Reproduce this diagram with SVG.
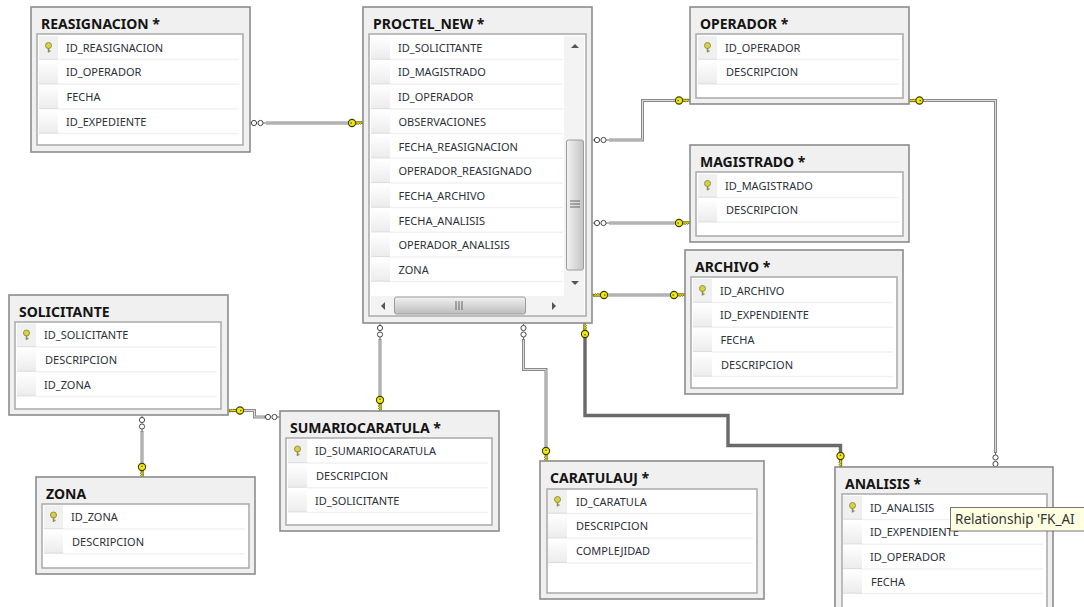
<svg xmlns="http://www.w3.org/2000/svg" xmlns:xlink="http://www.w3.org/1999/xlink" width="1084" height="607" viewBox="0 0 1084 607">
<style>
.outer{fill:#f0f0f0;stroke:#8c8c8c;stroke-width:1.6}
.inner{fill:#fff;stroke:#a9a9a9;stroke-width:1.5}
.title{font:bold 14px "Noto Sans","Liberation Sans",sans-serif;fill:#141414}
.col{font:11px "Noto Sans","Liberation Sans",sans-serif;fill:#2c3038}
.sep{stroke:#f1f1f1;stroke-width:1.5;fill:none}
.rel-o{fill:none;stroke:#8a8a8a;stroke-width:3}
.rel-i{fill:none;stroke:#dcdcdc;stroke-width:1}
.rel-sel{fill:none;stroke:#6a6a6a;stroke-width:3.4}
.sb{fill:#f3f3f3}
.thumb{fill:url(#thumbV);stroke:#9c9c9c}
.thumbh{fill:url(#thumbH);stroke:#9c9c9c}
.arrow{fill:#555}
.grip{stroke:#666;stroke-width:1;fill:none}
.tip{fill:#ffffe1;stroke:#767676}
.tiptext{font:13.5px "Noto Sans","Liberation Sans",sans-serif;fill:#333}
</style>
<defs>
<linearGradient id="cell" x1="0" y1="0" x2="0" y2="1"><stop offset="0" stop-color="#fff"/><stop offset="1" stop-color="#ececec"/></linearGradient>
<linearGradient id="thumbV" x1="0" y1="0" x2="1" y2="0"><stop offset="0" stop-color="#f2f2f2"/><stop offset="1" stop-color="#c4c4c4"/></linearGradient>
<linearGradient id="thumbH" x1="0" y1="0" x2="0" y2="1"><stop offset="0" stop-color="#f2f2f2"/><stop offset="1" stop-color="#bcbcbc"/></linearGradient>
<g id="row"><rect x="8" y="0" width="19" height="23" fill="url(#cell)"/><path d="M8 23.2H27" stroke="#dadada" fill="none"/></g>
<g id="pk"><rect x="8" y="0" width="19" height="23" fill="#f0f0f0"/><path d="M8 23.2H27" stroke="#dadada" fill="none"/><circle cx="17.5" cy="9.5" r="3" fill="#d9d23a" stroke="#8f8f50"/><path d="M17.5 12V16.5M17.5 15H19.5" stroke="#8f8f50" stroke-width="1.5" fill="none"/></g>
<g id="key"><path d="M3 -1.2H11V1L9.5 0.4 8.5 1.4 7.5 0.4 6.5 1.4 5 0.8 3 1.2Z" fill="#e8e000" stroke="#4a4a00" stroke-width="0.8"/><circle r="3.6" fill="#f2ea00" stroke="#3c3c10" stroke-width="1.1"/><circle cx="-0.8" r="0.8" fill="#4a4a00"/></g>
<g id="many"><circle cx="3" r="2.6" fill="#fff" stroke="#444" stroke-width="1"/><circle cx="9.5" r="2.6" fill="#fff" stroke="#444" stroke-width="1"/><path d="M-1 0H0M12 0H15" stroke="#666"/></g>
</defs>
<rect width="1084" height="607" fill="#fff"/>

<g id="connectors">
<path class="rel-o" d="M266 123H349"/><path class="rel-i" d="M266 123H349"/>
<path class="rel-o" d="M609 140H642.500V100.500H678"/><path class="rel-i" d="M609 140H642.500V100.500H678"/>
<path class="rel-o" d="M609 223H678"/><path class="rel-i" d="M609 223H678"/>
<path class="rel-o" d="M606 295H672"/><path class="rel-i" d="M606 295H672"/>
<path class="rel-o" d="M916 100.500H995.500V453"/><path class="rel-i" d="M916 100.500H995.500V453"/>
<path class="rel-o" d="M380 339V398"/><path class="rel-i" d="M380 339V398"/>
<path class="rel-o" d="M523.500 339V369.500H546V449"/><path class="rel-i" d="M523.500 339V369.500H546V449"/>
<path class="rel-sel" d="M585 336V415.500H728V445.500H840.500V454"/>
<path class="rel-o" d="M142 431V464"/><path class="rel-i" d="M142 431V464"/>
<path class="rel-o" d="M242 410.500H254.500V417H266"/><path class="rel-i" d="M242 410.500H254.500V417H266"/>
<use xlink:href="#many" href="#many" transform="translate(251 123)"/>
<use xlink:href="#key" href="#key" transform="translate(352 123)"/>
<use xlink:href="#many" href="#many" transform="translate(594 140)"/>
<use xlink:href="#key" href="#key" transform="translate(679 100.500)"/>
<use xlink:href="#many" href="#many" transform="translate(594 223)"/>
<use xlink:href="#key" href="#key" transform="translate(679 223)"/>
<use xlink:href="#key" href="#key" transform="translate(604 295) rotate(180)"/>
<use xlink:href="#key" href="#key" transform="translate(674 295)"/>
<use xlink:href="#key" href="#key" transform="translate(919.500 100.500) rotate(180)"/>
<use xlink:href="#many" href="#many" transform="translate(995.500 467) rotate(-90)"/>
<use xlink:href="#many" href="#many" transform="translate(380 325) rotate(90)"/>
<use xlink:href="#key" href="#key" transform="translate(380 400) rotate(90)"/>
<use xlink:href="#many" href="#many" transform="translate(523.500 325) rotate(90)"/>
<use xlink:href="#key" href="#key" transform="translate(546 451) rotate(90)"/>
<use xlink:href="#key" href="#key" transform="translate(585 334) rotate(-90)"/>
<use xlink:href="#key" href="#key" transform="translate(840.500 456) rotate(90)"/>
<use xlink:href="#many" href="#many" transform="translate(142 417) rotate(90)"/>
<use xlink:href="#key" href="#key" transform="translate(142 467) rotate(90)"/>
<use xlink:href="#key" href="#key" transform="translate(240 410.500) rotate(180)"/>
<use xlink:href="#many" href="#many" transform="translate(265 417)"/>
</g>

<g id="node-reasignacion" transform="translate(31 7)">
<rect class="outer" width="219" height="145"/><rect class="inner" x="6" y="27" width="206" height="111"/>
<text class="title" x="10" y="22">REASIGNACION *</text>
<use xlink:href="#pk" href="#pk" y="29"/><use xlink:href="#row" href="#row" y="53.700"/><use xlink:href="#row" href="#row" y="78.400"/><use xlink:href="#row" href="#row" y="103"/>
<path class="sep" d="M27 52.500H208M27 77.200H208M27 102H208M27 126.500H208"/>
<text class="col" x="35" y="44.500">ID_REASIGNACION</text><text class="col" x="35" y="69">ID_OPERADOR</text><text class="col" x="35.500" y="94">FECHA</text><text class="col" x="35" y="118.500">ID_EXPEDIENTE</text>
</g>

<g id="node-proctel" transform="translate(363 7)">
<rect class="outer" width="229" height="316"/><rect class="inner" x="6" y="27" width="217" height="282"/>
<text class="title" x="10" y="22">PROCTEL_NEW *</text>
<use xlink:href="#row" href="#row" y="29"/><use xlink:href="#row" href="#row" y="53.700"/><use xlink:href="#row" href="#row" y="78.400"/><use xlink:href="#row" href="#row" y="103"/><use xlink:href="#row" href="#row" y="127.700"/><use xlink:href="#row" href="#row" y="152.400"/><use xlink:href="#row" href="#row" y="177"/><use xlink:href="#row" href="#row" y="201.700"/><use xlink:href="#row" href="#row" y="226.400"/><use xlink:href="#row" href="#row" y="251"/>
<path class="sep" d="M27 52.500H200M27 77.200H200M27 102H200M27 126.500H200M27 151.200H200M27 176H200M27 200.500H200M27 225.200H200M27 250H200M27 274.500H200"/>
<text class="col" x="35" y="44.500">ID_SOLICITANTE</text><text class="col" x="35" y="69">ID_MAGISTRADO</text><text class="col" x="35" y="94">ID_OPERADOR</text><text class="col" x="35.500" y="118.500">OBSERVACIONES</text><text class="col" x="35.500" y="143.500">FECHA_REASIGNACION</text><text class="col" x="35.500" y="168">OPERADOR_REASIGNADO</text><text class="col" x="35.500" y="193">FECHA_ARCHIVO</text><text class="col" x="35.500" y="217.500">FECHA_ANALISIS</text><text class="col" x="35.500" y="242">OPERADOR_ANALISIS</text><text class="col" x="35.500" y="267">ZONA</text>
<rect class="sb" x="201" y="29" width="20" height="260"/>
<rect class="sb" x="8" y="289" width="213" height="19"/>
<rect class="thumb" x="203.500" y="133" width="17" height="130" rx="2"/>
<rect class="thumbh" x="31.500" y="290" width="131" height="17" rx="2"/>
<path class="arrow" d="M208 41L212 37 216 41Z M208 274L212 278 216 274Z M22 295L18 299 22 303Z M189 295L193 299 189 303Z"/>
<path class="grip" d="M207 194H217M207 197H217M207 200H217M93 294V303M96 294V303M99 294V303"/>
</g>

<g id="node-operador" transform="translate(690 7)">
<rect class="outer" width="219" height="97"/><rect class="inner" x="6" y="27" width="207" height="64"/>
<text class="title" x="10" y="22">OPERADOR *</text>
<use xlink:href="#pk" href="#pk" y="29"/><use xlink:href="#row" href="#row" y="53.700"/>
<path class="sep" d="M27 52.500H209M27 77.200H209"/>
<text class="col" x="35" y="44.500">ID_OPERADOR</text><text class="col" x="36" y="69">DESCRIPCION</text>
</g>

<g id="node-magistrado" transform="translate(690 145)">
<rect class="outer" width="219" height="97"/><rect class="inner" x="6" y="27" width="207" height="64"/>
<text class="title" x="10" y="22">MAGISTRADO *</text>
<use xlink:href="#pk" href="#pk" y="29"/><use xlink:href="#row" href="#row" y="53.700"/>
<path class="sep" d="M27 52.500H209M27 77.200H209"/>
<text class="col" x="35" y="44.500">ID_MAGISTRADO</text><text class="col" x="36" y="69">DESCRIPCION</text>
</g>

<g id="node-archivo" transform="translate(685 250)">
<rect class="outer" width="218" height="144"/><rect class="inner" x="6" y="27" width="206" height="111"/>
<text class="title" x="10" y="22">ARCHIVO *</text>
<use xlink:href="#pk" href="#pk" y="29"/><use xlink:href="#row" href="#row" y="53.700"/><use xlink:href="#row" href="#row" y="78.400"/><use xlink:href="#row" href="#row" y="103"/>
<path class="sep" d="M27 52.500H208M27 77.200H208M27 102H208M27 126.500H208"/>
<text class="col" x="35" y="44.500">ID_ARCHIVO</text><text class="col" x="35" y="69">ID_EXPENDIENTE</text><text class="col" x="35.500" y="94">FECHA</text><text class="col" x="36" y="118.500">DESCRIPCION</text>
</g>

<g id="node-solicitante" transform="translate(9 295)">
<rect class="outer" width="219" height="120"/><rect class="inner" x="6" y="27" width="206" height="87"/>
<text class="title" x="10" y="22">SOLICITANTE</text>
<use xlink:href="#pk" href="#pk" y="28.500"/><use xlink:href="#row" href="#row" y="53"/><use xlink:href="#row" href="#row" y="77.700"/>
<path class="sep" d="M27 52H208M27 76.700H208M27 101.400H208"/>
<text class="col" x="35" y="44">ID_SOLICITANTE</text><text class="col" x="36" y="69">DESCRIPCION</text><text class="col" x="35" y="93.500">ID_ZONA</text>
</g>

<g id="node-zona" transform="translate(36 477)">
<rect class="outer" width="219" height="97"/><rect class="inner" x="6" y="27" width="207" height="64"/>
<text class="title" x="10" y="22">ZONA</text>
<use xlink:href="#pk" href="#pk" y="28.500"/><use xlink:href="#row" href="#row" y="53"/>
<path class="sep" d="M27 52H209M27 76.700H209"/>
<text class="col" x="35" y="44">ID_ZONA</text><text class="col" x="36" y="69">DESCRIPCION</text>
</g>

<g id="node-sumariocaratula" transform="translate(280 411)">
<rect class="outer" width="219" height="120"/><rect class="inner" x="6" y="27" width="206" height="87"/>
<text class="title" x="10" y="22">SUMARIOCARATULA *</text>
<use xlink:href="#pk" href="#pk" y="28.500"/><use xlink:href="#row" href="#row" y="53"/><use xlink:href="#row" href="#row" y="77.700"/>
<path class="sep" d="M27 52H208M27 76.700H208M27 101.400H208"/>
<text class="col" x="35" y="44">ID_SUMARIOCARATULA</text><text class="col" x="36" y="69">DESCRIPCION</text><text class="col" x="35" y="93.500">ID_SOLICITANTE</text>
</g>

<g id="node-caratulauj" transform="translate(540 461)">
<rect class="outer" width="224" height="138"/><rect class="inner" x="7" y="28" width="210" height="104"/>
<text class="title" x="10" y="22">CARATULAUJ *</text>
<use xlink:href="#pk" href="#pk" y="29"/><use xlink:href="#row" href="#row" y="53.700"/><use xlink:href="#row" href="#row" y="78.400"/>
<path class="sep" d="M27 52.500H213M27 77.200H213M27 102H213"/>
<text class="col" x="36" y="44.500">ID_CARATULA</text><text class="col" x="36" y="69">DESCRIPCION</text><text class="col" x="36" y="94">COMPLEJIDAD</text>
</g>

<g id="node-analisis" transform="translate(835 467)">
<rect class="outer" width="218" height="150"/><rect class="inner" x="7" y="27" width="205" height="137"/>
<text class="title" x="10" y="22">ANALISIS *</text>
<use xlink:href="#pk" href="#pk" y="29"/><use xlink:href="#row" href="#row" y="53.700"/><use xlink:href="#row" href="#row" y="78.400"/><use xlink:href="#row" href="#row" y="103"/>
<path class="sep" d="M27 52.500H208M27 77.200H208M27 102H208M27 126.500H208"/>
<text class="col" x="35" y="44.500">ID_ANALISIS</text><text class="col" x="35" y="69">ID_EXPENDIENTE</text><text class="col" x="35" y="94">ID_OPERADOR</text><text class="col" x="36" y="118.500">FECHA</text>
</g>

<g id="tooltip">
<rect class="tip" x="950.500" y="507.500" width="150" height="23.500"/>
<text class="tiptext" x="955" y="524">Relationship 'FK_AI</text>
</g>
</svg>
